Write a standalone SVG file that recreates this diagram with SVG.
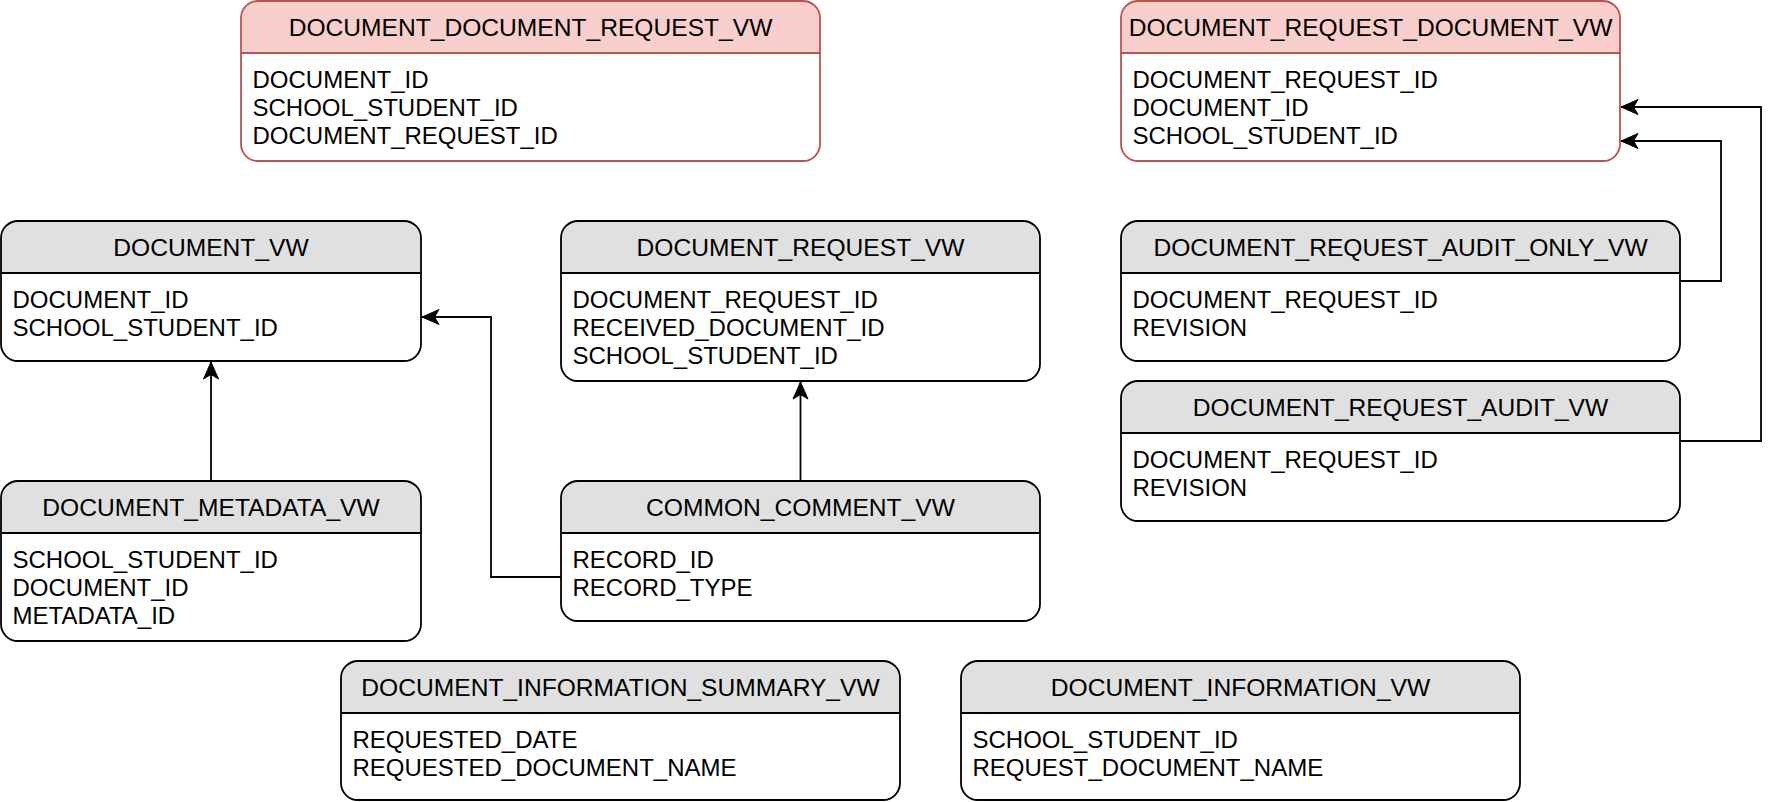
<svg xmlns="http://www.w3.org/2000/svg" width="1778" height="802" viewBox="0 0 1778 802">
<style>
text { font-family: "Liberation Sans", Arial, sans-serif; font-size: 24px; fill: #000; }
.title { text-anchor: middle; font-size: 24.6px; }
.hdr { fill: #e0e0e0; stroke: none; }
.hdr.pink { fill: #f8cecc; }
.frame { fill: none; stroke: #000; stroke-width: 1.8; }
.frame.pink { stroke: #b85450; }
.body { fill: #fff; stroke: none; }
.conn { fill: none; stroke: #000; stroke-width: 1.8; marker-end: url(#arrow); }
</style>
<defs>
<marker id="arrow" markerUnits="userSpaceOnUse" viewBox="-18 -9 19 18" refX="0" refY="0" markerWidth="19" markerHeight="18" orient="auto">
<path d="M0,0 L-17,-7.5 L-12.5,0 L-17,7.5 Z" fill="#000" stroke="#000" stroke-width="1"/>
</marker>
</defs>

<g id="DOCUMENT_DOCUMENT_REQUEST_VW">
<rect class="body" x="241" y="1" width="579" height="160" rx="17"/>
<path class="hdr pink" d="M241,53 V18 A17,17 0 0 1 258,1 H803 A17,17 0 0 1 820,18 V53 Z"/>
<rect class="frame pink" x="241" y="1" width="579" height="160" rx="17"/>
<line class="frame pink" x1="241" y1="53" x2="820" y2="53"/>
<text class="title" x="530.5" y="36">DOCUMENT_DOCUMENT_REQUEST_VW</text>
<text x="252.5" y="87.5">DOCUMENT_ID</text>
<text x="252.5" y="115.5">SCHOOL_STUDENT_ID</text>
<text x="252.5" y="143.5">DOCUMENT_REQUEST_ID</text>
</g>

<g id="DOCUMENT_REQUEST_DOCUMENT_VW">
<rect class="body" x="1121" y="1" width="499" height="160" rx="17"/>
<path class="hdr pink" d="M1121,53 V18 A17,17 0 0 1 1138,1 H1603 A17,17 0 0 1 1620,18 V53 Z"/>
<rect class="frame pink" x="1121" y="1" width="499" height="160" rx="17"/>
<line class="frame pink" x1="1121" y1="53" x2="1620" y2="53"/>
<text class="title" x="1370.5" y="36">DOCUMENT_REQUEST_DOCUMENT_VW</text>
<text x="1132.5" y="87.5">DOCUMENT_REQUEST_ID</text>
<text x="1132.5" y="115.5">DOCUMENT_ID</text>
<text x="1132.5" y="143.5">SCHOOL_STUDENT_ID</text>
</g>

<g id="DOCUMENT_VW">
<rect class="body" x="1" y="221" width="420" height="140" rx="17"/>
<path class="hdr" d="M1,273 V238 A17,17 0 0 1 18,221 H404 A17,17 0 0 1 421,238 V273 Z"/>
<rect class="frame" x="1" y="221" width="420" height="140" rx="17"/>
<line class="frame" x1="1" y1="273" x2="421" y2="273"/>
<text class="title" x="211" y="256">DOCUMENT_VW</text>
<text x="12.5" y="307.5">DOCUMENT_ID</text>
<text x="12.5" y="335.5">SCHOOL_STUDENT_ID</text>
</g>

<g id="DOCUMENT_REQUEST_VW">
<rect class="body" x="561" y="221" width="479" height="160" rx="17"/>
<path class="hdr" d="M561,273 V238 A17,17 0 0 1 578,221 H1023 A17,17 0 0 1 1040,238 V273 Z"/>
<rect class="frame" x="561" y="221" width="479" height="160" rx="17"/>
<line class="frame" x1="561" y1="273" x2="1040" y2="273"/>
<text class="title" x="800.5" y="256">DOCUMENT_REQUEST_VW</text>
<text x="572.5" y="307.5">DOCUMENT_REQUEST_ID</text>
<text x="572.5" y="335.5">RECEIVED_DOCUMENT_ID</text>
<text x="572.5" y="363.5">SCHOOL_STUDENT_ID</text>
</g>

<g id="DOCUMENT_REQUEST_AUDIT_ONLY_VW">
<rect class="body" x="1121" y="221" width="559" height="140" rx="17"/>
<path class="hdr" d="M1121,273 V238 A17,17 0 0 1 1138,221 H1663 A17,17 0 0 1 1680,238 V273 Z"/>
<rect class="frame" x="1121" y="221" width="559" height="140" rx="17"/>
<line class="frame" x1="1121" y1="273" x2="1680" y2="273"/>
<text class="title" x="1400.5" y="256">DOCUMENT_REQUEST_AUDIT_ONLY_VW</text>
<text x="1132.5" y="307.5">DOCUMENT_REQUEST_ID</text>
<text x="1132.5" y="335.5">REVISION</text>
</g>

<g id="DOCUMENT_REQUEST_AUDIT_VW">
<rect class="body" x="1121" y="381" width="559" height="140" rx="17"/>
<path class="hdr" d="M1121,433 V398 A17,17 0 0 1 1138,381 H1663 A17,17 0 0 1 1680,398 V433 Z"/>
<rect class="frame" x="1121" y="381" width="559" height="140" rx="17"/>
<line class="frame" x1="1121" y1="433" x2="1680" y2="433"/>
<text class="title" x="1400.5" y="416">DOCUMENT_REQUEST_AUDIT_VW</text>
<text x="1132.5" y="467.5">DOCUMENT_REQUEST_ID</text>
<text x="1132.5" y="495.5">REVISION</text>
</g>

<g id="DOCUMENT_METADATA_VW">
<rect class="body" x="1" y="481" width="420" height="160" rx="17"/>
<path class="hdr" d="M1,533 V498 A17,17 0 0 1 18,481 H404 A17,17 0 0 1 421,498 V533 Z"/>
<rect class="frame" x="1" y="481" width="420" height="160" rx="17"/>
<line class="frame" x1="1" y1="533" x2="421" y2="533"/>
<text class="title" x="211" y="516">DOCUMENT_METADATA_VW</text>
<text x="12.5" y="567.5">SCHOOL_STUDENT_ID</text>
<text x="12.5" y="595.5">DOCUMENT_ID</text>
<text x="12.5" y="623.5">METADATA_ID</text>
</g>

<g id="COMMON_COMMENT_VW">
<rect class="body" x="561" y="481" width="479" height="140" rx="17"/>
<path class="hdr" d="M561,533 V498 A17,17 0 0 1 578,481 H1023 A17,17 0 0 1 1040,498 V533 Z"/>
<rect class="frame" x="561" y="481" width="479" height="140" rx="17"/>
<line class="frame" x1="561" y1="533" x2="1040" y2="533"/>
<text class="title" x="800.5" y="516">COMMON_COMMENT_VW</text>
<text x="572.5" y="567.5">RECORD_ID</text>
<text x="572.5" y="595.5">RECORD_TYPE</text>
</g>

<g id="DOCUMENT_INFORMATION_SUMMARY_VW">
<rect class="body" x="341" y="661" width="559" height="139" rx="17"/>
<path class="hdr" d="M341,713 V678 A17,17 0 0 1 358,661 H883 A17,17 0 0 1 900,678 V713 Z"/>
<rect class="frame" x="341" y="661" width="559" height="139" rx="17"/>
<line class="frame" x1="341" y1="713" x2="900" y2="713"/>
<text class="title" x="620.5" y="696">DOCUMENT_INFORMATION_SUMMARY_VW</text>
<text x="352.5" y="747.5">REQUESTED_DATE</text>
<text x="352.5" y="775.5">REQUESTED_DOCUMENT_NAME</text>
</g>

<g id="DOCUMENT_INFORMATION_VW">
<rect class="body" x="961" y="661" width="559" height="139" rx="17"/>
<path class="hdr" d="M961,713 V678 A17,17 0 0 1 978,661 H1503 A17,17 0 0 1 1520,678 V713 Z"/>
<rect class="frame" x="961" y="661" width="559" height="139" rx="17"/>
<line class="frame" x1="961" y1="713" x2="1520" y2="713"/>
<text class="title" x="1240.5" y="696">DOCUMENT_INFORMATION_VW</text>
<text x="972.5" y="747.5">SCHOOL_STUDENT_ID</text>
<text x="972.5" y="775.5">REQUEST_DOCUMENT_NAME</text>
</g>

<g id="connectors">
<path class="conn" d="M211,481 V362"/>
<path class="conn" d="M800.5,481 V382"/>
<path class="conn" d="M561,577 H491 V317 H422"/>
<path class="conn" d="M1680,281 H1721 V141 H1621"/>
<path class="conn" d="M1680,441 H1761 V107 H1621"/>
</g>
</svg>
